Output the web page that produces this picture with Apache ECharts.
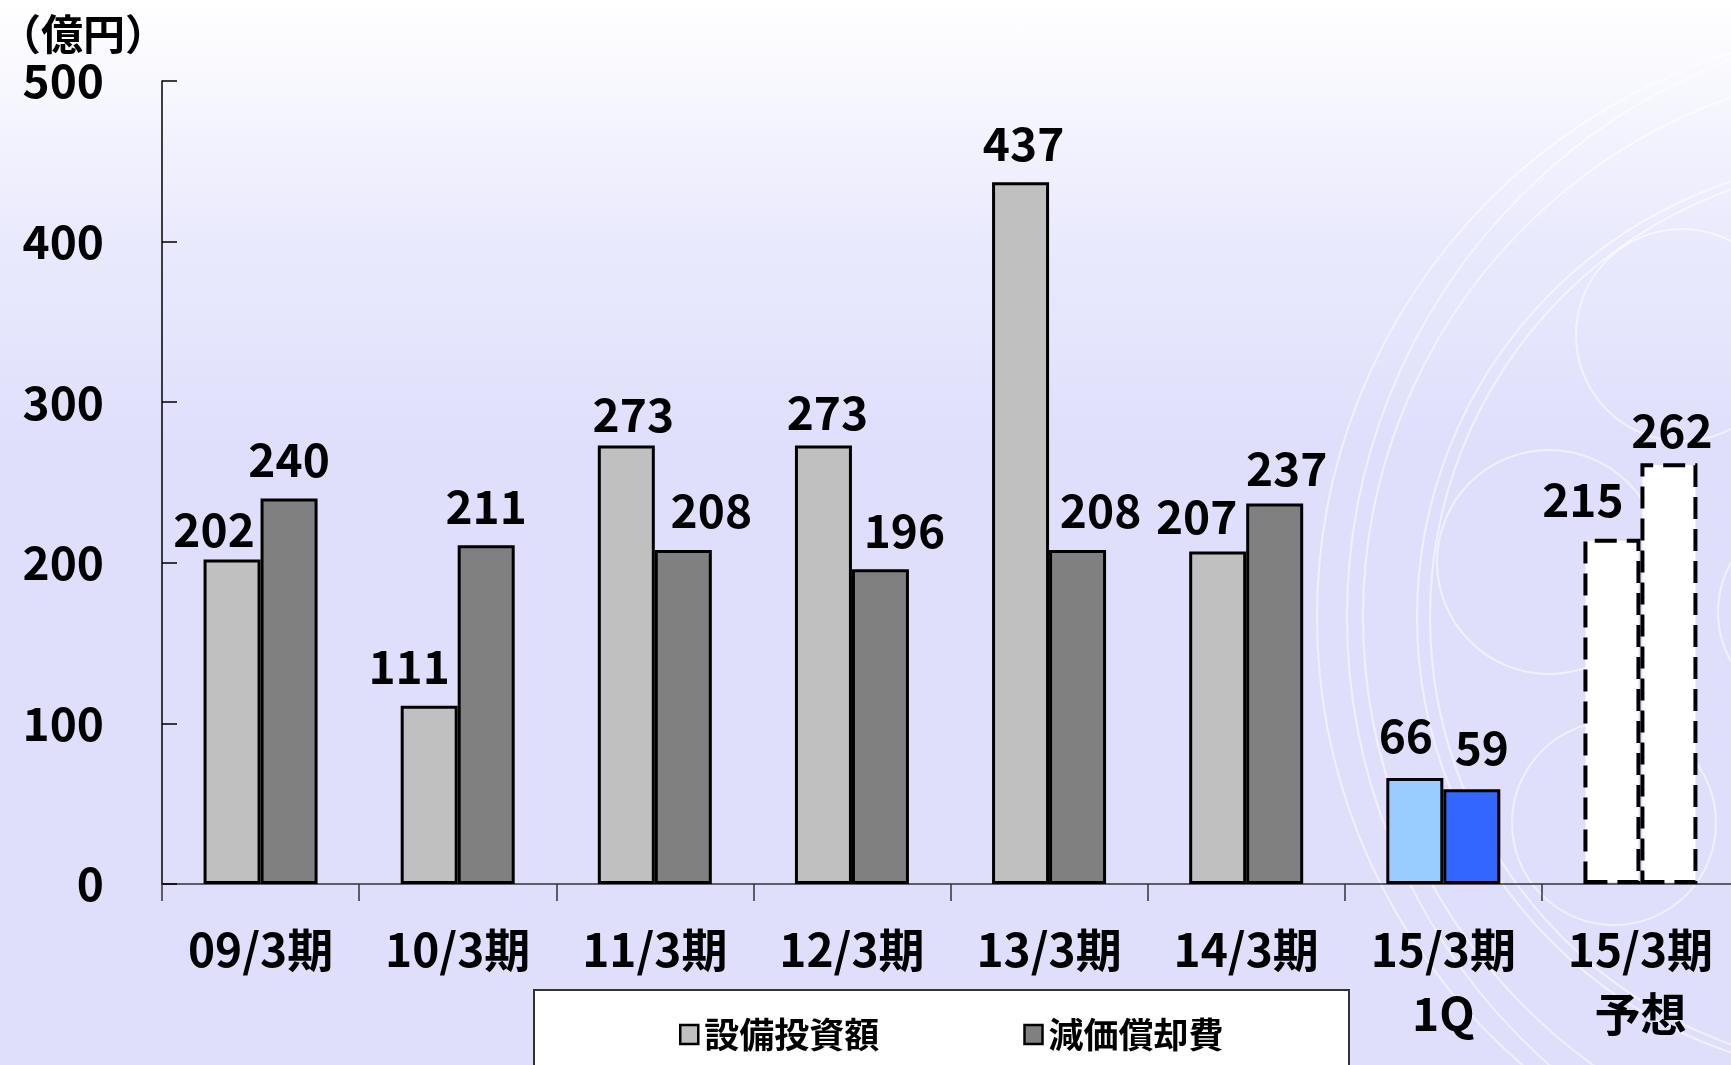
<!DOCTYPE html>
<html>
<head>
<meta charset="utf-8">
<script src="https://cdn.jsdelivr.net/npm/echarts@6/dist/echarts.min.js"></script>
<style>
html,body{margin:0;padding:0;width:1731px;height:1065px;overflow:hidden;
background:linear-gradient(to bottom,#ffffff 0%,#eaeafd 22%,#dfdffc 42%,#dfdffc 100%);}
#chart{width:1740px;height:1065px;}
</style>
</head>
<body>
<div id="chart"></div>
<script>
const categories = ['09/3期','10/3期','11/3期','12/3期','13/3期','14/3期','15/3期\n1Q','15/3期\n予想'];
const capex = [202, 111, 273, 273, 437, 207, 66, 215];          // 設備投資額
const depreciation = [240, 211, 208, 196, 208, 237, 59, 262];   // 減価償却費
const seriesNames = ['設備投資額', '減価償却費'];
const unitLabel = '（億円）';

// styling: label nudges (px) to follow the reference placement
const capexShift = [[-18,9],[-20,0],[7,8],[4,6],[3,0],[-21,4],[-9,-3],[-29,0]];
const depShift = [[0,0],[0,0],[28,0],[24,0],[23,0],[12,4],[10,-3],[3,6]];

const FONT = "'Noto Sans CJK JP', 'Noto Sans', sans-serif";
const IDX_1Q = 6, IDX_FC = 7;

function buildData(values, shifts, qColor) {
  return values.map((v, i) => {
    const item = { value: v, label: { offset: shifts[i] } };
    if (i === IDX_1Q) item.itemStyle = { color: qColor };
    if (i === IDX_FC) item.itemStyle = { color: '#ffffff', borderType: [22, 10], borderWidth: 4 };
    return item;
  });
}

const labelCfg = {
  show: true, position: 'top', distance: 16,
  fontFamily: FONT, fontWeight: 'bold', fontSize: 46, color: '#000'
};

const circles = [
  {cx:1549, cy:562, r:112},
  {cx:1614, cy:823, r:102},
  {cx:1682, cy:335, r:106},
  {cx:1818, cy:612, r:100},
  {cx:1908, cy:617, r:591},
  {cx:1944, cy:617, r:597},
  {cx:1914, cy:617, r:551},
  {cx:1876, cy:617, r:459},
  {cx:1884, cy:617, r:454}
];

const chart = echarts.init(document.getElementById('chart'), null, {renderer:'canvas'});
chart.setOption({
  backgroundColor: 'transparent',
  animation: false,
  title: {
    text: unitLabel, left: -6, top: 8,
    textStyle: { fontFamily: FONT, fontWeight: 'bold', fontSize: 42, color: '#000' }
  },
  graphic: [
    ...circles.map(c => ({
      type: 'circle', z: -10, silent: true,
      shape: { cx: c.cx, cy: c.cy, r: c.r },
      style: { fill: 'none', stroke: 'rgba(255,255,255,0.55)', lineWidth: 2 }
    })),
    {
      type: 'rect', z: 1, silent: true,
      shape: { x: 534, y: 990, width: 815, height: 110 },
      style: { fill: '#ffffff', stroke: '#333333', lineWidth: 2 }
    }
  ],
  legend: {
    data: seriesNames,
    left: 679, top: 1017, padding: 0,
    icon: 'rect', itemWidth: 18, itemHeight: 19, itemGap: 144,
    itemStyle: { borderWidth: 2.5, borderColor: '#000' },
    textStyle: { fontFamily: FONT, fontWeight: 'bold', fontSize: 35, color: '#000', width: 172, padding: [0,0,0,1] }
  },
  grid: { left: 162, right: 1, top: 81, bottom: 181, containLabel: false },
  xAxis: {
    type: 'category',
    data: categories,
    axisLine: { lineStyle: { color: '#333', width: 1.5 } },
    axisTick: { show: true, length: 17, lineStyle: { color: '#333', width: 1.5 } },
    axisLabel: {
      interval: 0, margin: 34,
      fontFamily: FONT, fontWeight: 'bold', fontSize: 46, color: '#000', lineHeight: 64
    }
  },
  yAxis: {
    type: 'value', min: 0, max: 500, interval: 100,
    axisLine: { show: true, lineStyle: { color: '#000', width: 1.5 } },
    axisTick: { show: true, inside: true, length: 15, lineStyle: { color: '#000', width: 1.5 } },
    splitLine: { show: false },
    axisLabel: {
      margin: 58, fontFamily: FONT, fontWeight: 'bold', fontSize: 46, color: '#000'
    }
  },
  series: [
    {
      name: seriesNames[0], type: 'bar', barWidth: 57, barGap: '0%',
      itemStyle: { color: '#c0c0c0', borderColor: '#000', borderWidth: 3 },
      label: labelCfg,
      data: buildData(capex, capexShift, '#99ccff')
    },
    {
      name: seriesNames[1], type: 'bar', barWidth: 57, barGap: '0%',
      itemStyle: { color: '#808080', borderColor: '#000', borderWidth: 3 },
      label: labelCfg,
      data: buildData(depreciation, depShift, '#3366ff')
    }
  ]
});
</script>
</body>
</html>
